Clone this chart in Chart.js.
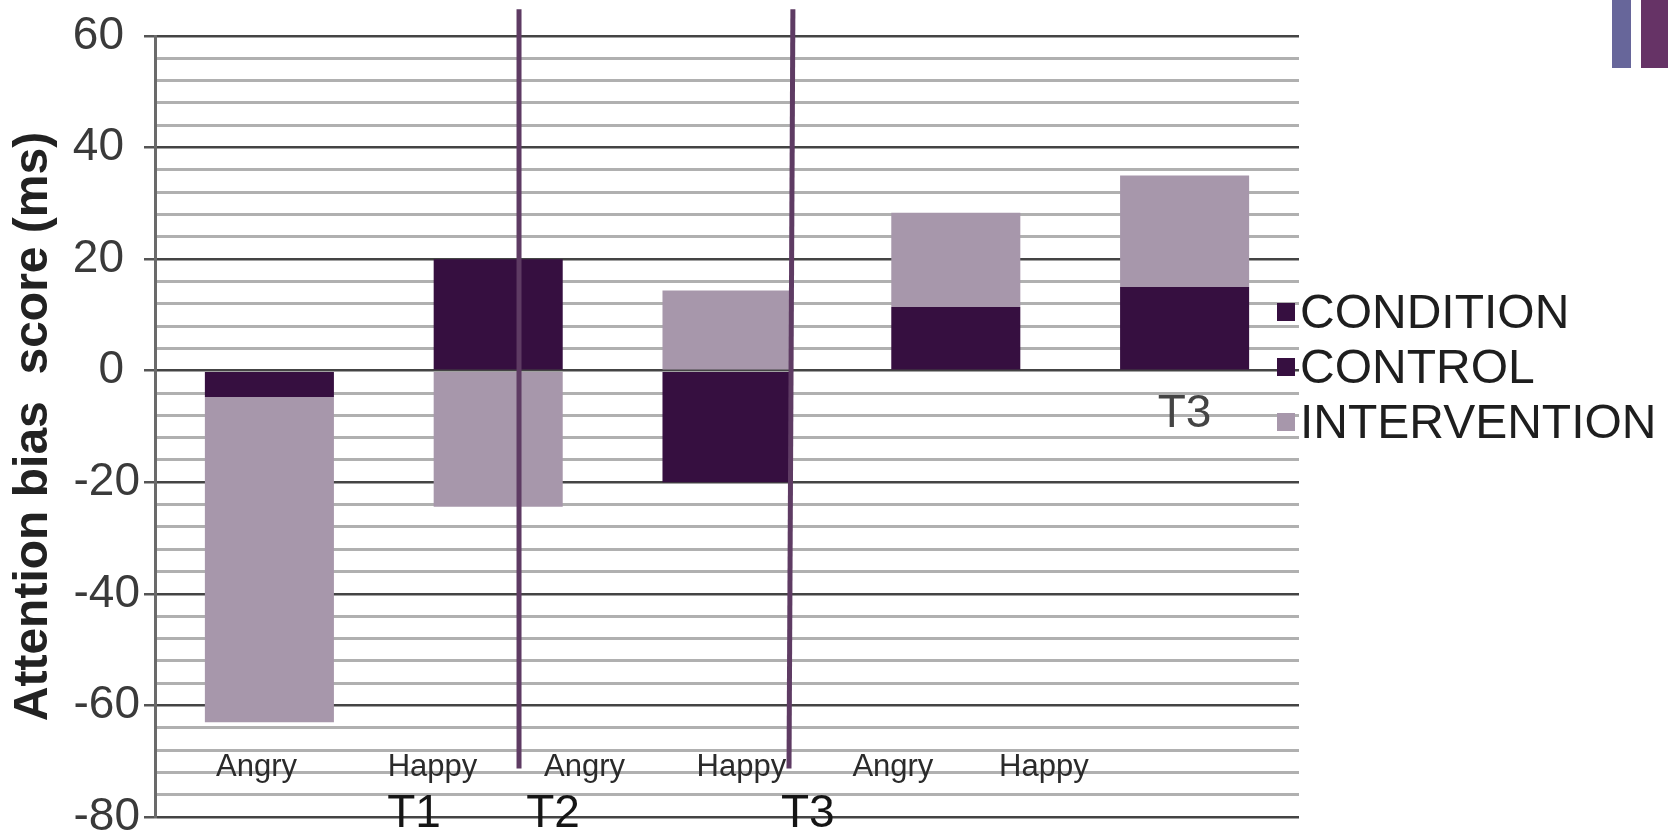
<!DOCTYPE html>
<html>
<head>
<meta charset="utf-8">
<script src="https://cdn.jsdelivr.net/npm/chart.js@4.4.1/dist/chart.umd.min.js"></script>
<style>
  html, body { margin: 0; padding: 0; background: #ffffff; }
  #wrap { position: relative; width: 1668px; height: 836px; overflow: hidden; }
  #chart { position: absolute; left: 0; top: 0; }
  .tab { position: absolute; top: 0; height: 68px; }
</style>
</head>
<body>
<div id="wrap">
  <canvas id="chart" width="1668" height="836"></canvas>
  <div class="tab" style="left:1612px;width:19px;background:#67669a"></div>
  <div class="tab" style="left:1641px;width:27px;background:#663366"></div>
</div>
<script>
// ---- data ----
const categories = ['T1 Angry', 'T1 Happy', 'T2 Angry', 'T2 Happy', 'T3 Angry'];
const seriesNames = ['CONDITION', 'CONTROL', 'INTERVENTION'];
const conditionValues = [null, null, null, null, null];
const controlValues = [-4.7, 20, -20, 11.4, 15];
const interventionValues = [-58.3, -24.4, 14.4, 16.9, 20];
const emotionLabels = ['Angry', 'Happy', 'Angry', 'Happy', 'Angry', 'Happy'];
const timeLabels = ['T1', 'T2', 'T3', 'T3'];
const yMajorStep = 20;

// ---- placement of the free-standing labels and divider lines ----
// x in category-index units, y in score units, so they follow the scales
const emotionLabelX = [-0.056, 0.713, 1.377, 2.063, 2.725, 3.385];
const emotionLabelY = -72.7;
const timeLabelPos = [
  { x: 0.632, y: -81.8, color: '#151515' },
  { x: 1.240, y: -81.8, color: '#151515' },
  { x: 2.353, y: -81.8, color: '#151515' },
  { x: 4.0,   y: -10.1, color: '#444444' }
];
const dividers = [
  { xTop: 1.091, xBottom: 1.091 },
  { xTop: 2.288, xBottom: 2.271 }
];
const dividerSpan = { top: 64.8, bottom: -71.3 };

const DARK = '#360f40';
const LIGHT = '#a797ab';
const FONT = '"Liberation Sans", Arial, sans-serif';

const isMajor = v => v % yMajorStep === 0;

const overlay = {
  id: 'overlay',
  afterDatasetsDraw(chart) {
    const { ctx, scales: { x, y } } = chart;
    ctx.save();
    ctx.strokeStyle = '#5e3b63';
    ctx.lineWidth = 5;
    dividers.forEach(d => {
      ctx.beginPath();
      ctx.moveTo(x.getPixelForValue(d.xTop), y.getPixelForValue(dividerSpan.top));
      ctx.lineTo(x.getPixelForValue(d.xBottom), y.getPixelForValue(dividerSpan.bottom));
      ctx.stroke();
    });
    ctx.restore();
  },
  afterDraw(chart) {
    const { ctx, chartArea, scales: { x, y } } = chart;
    ctx.save();

    // value labels on the score axis; positive numbers keep a trailing gap
    ctx.font = '46px ' + FONT;
    ctx.fillStyle = '#3a3a3a';
    ctx.textAlign = 'right';
    ctx.textBaseline = 'middle';
    y.ticks.forEach(t => {
      if (!isMajor(t.value)) return;
      const right = chartArea.left - (t.value < 0 ? 15 : 31);
      ctx.fillText(String(t.value), right, y.getPixelForValue(t.value));
    });

    ctx.textAlign = 'center';
    ctx.textBaseline = 'alphabetic';

    // emotion labels
    ctx.font = '31px ' + FONT;
    ctx.fillStyle = '#2b2b2b';
    emotionLabels.forEach((t, i) => {
      ctx.fillText(t, x.getPixelForValue(emotionLabelX[i]), y.getPixelForValue(emotionLabelY));
    });

    // time-point labels
    ctx.font = '46px ' + FONT;
    timeLabels.forEach((t, i) => {
      const p = timeLabelPos[i];
      ctx.fillStyle = p.color;
      ctx.fillText(t, x.getPixelForValue(p.x), y.getPixelForValue(p.y));
    });

    // legend, straddling the right edge of the plot
    const ds = chart.data.datasets;
    const markerLeft = chartArea.right - 22;
    const textLeft = chartArea.right + 1;
    const firstBaseline = chartArea.top + 292;
    const rowGap = 55;
    ctx.textAlign = 'left';
    ctx.font = '48px ' + FONT;
    ds.forEach((d, i) => {
      const base = firstBaseline + i * rowGap;
      ctx.fillStyle = d.backgroundColor;
      ctx.fillRect(markerLeft, base - 25, 18, 18);
      ctx.fillStyle = '#1e1e1e';
      ctx.fillText(d.label, textLeft, base);
    });
    ctx.restore();
  }
};

new Chart(document.getElementById('chart'), {
  type: 'bar',
  data: {
    labels: categories,
    datasets: [
      { label: seriesNames[0], data: conditionValues, backgroundColor: DARK },
      { label: seriesNames[1], data: controlValues, backgroundColor: DARK },
      { label: seriesNames[2], data: interventionValues, backgroundColor: LIGHT }
    ]
  },
  options: {
    responsive: false,
    animation: false,
    devicePixelRatio: 1,
    layout: { padding: { left: 0, top: 36, right: 369, bottom: 19 } },
    datasets: { bar: { categoryPercentage: 1, barPercentage: 0.564, borderWidth: 0 } },
    plugins: { legend: { display: false }, tooltip: { enabled: false } },
    scales: {
      x: { display: false, stacked: true, offset: true },
      y: {
        stacked: true,
        min: -80,
        max: 60,
        afterFit(scale) {
          scale.width = 155;
          scale.paddingTop = 0;
          scale.paddingBottom = 0;
        },
        ticks: {
          display: false,
          stepSize: 4,
          autoSkip: false
        },
        grid: {
          drawTicks: true,
          tickLength: 11,
          color: c => (c.tick && isMajor(c.tick.value) ? '#444444' : '#b0b0b0'),
          lineWidth: c => (c.tick && isMajor(c.tick.value) ? 2.5 : 3),
          tickColor: c => (c.tick && isMajor(c.tick.value) ? '#555555' : 'rgba(0,0,0,0)')
        },
        border: { display: true, color: '#6a6a6a', width: 3 },
        title: {
          display: true,
          text: 'Attention bias  score (ms)',
          color: '#222222',
          font: { family: FONT, size: 48, weight: 'bold' },
          padding: { top: 5, bottom: 0 }
        }
      }
    }
  },
  plugins: [overlay]
});
</script>
</body>
</html>
